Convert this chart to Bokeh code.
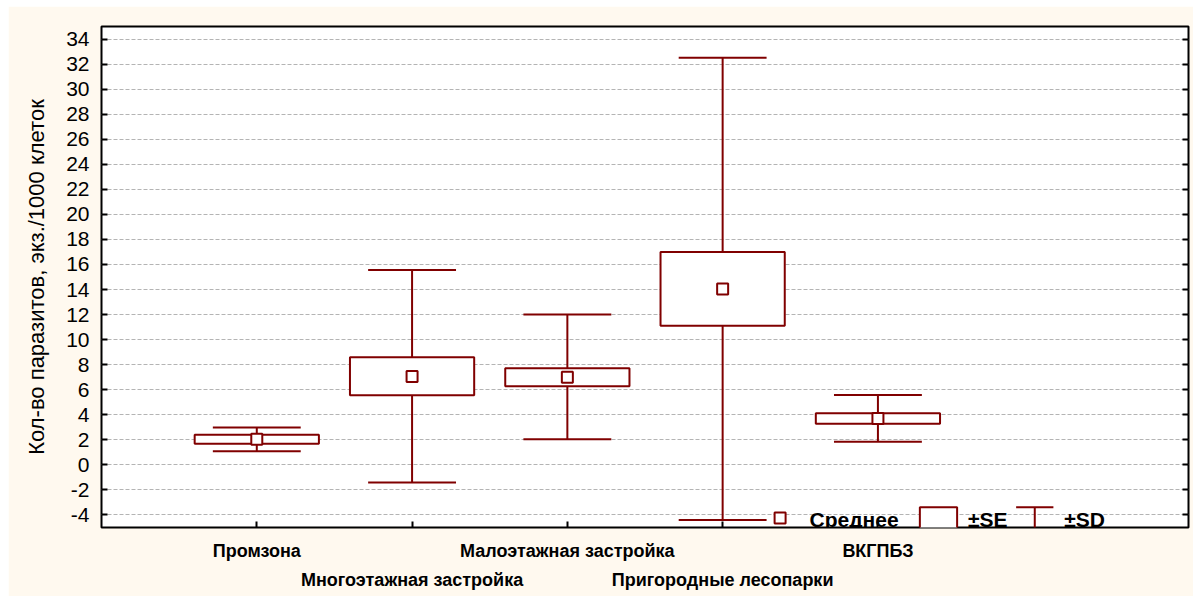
from bokeh.plotting import figure
from bokeh.models import FixedTicker, LinearAxis, Range1d, Label, ColumnDataSource
from bokeh.embed import file_html
from bokeh.resources import INLINE

categories = ["Промзона", "Многоэтажная застройка", "Малоэтажная застройка",
              "Пригородные лесопарки", "ВКГПБЗ"]
means = [2.05, 7.05, 7.0, 14.05, 3.7]
se_low = [1.68, 5.55, 6.28, 11.1, 3.28]
se_high = [2.40, 8.60, 7.72, 17.0, 4.13]
sd_low = [1.08, -1.4, 2.05, -4.4, 1.85]
sd_high = [2.98, 15.55, 12.0, 32.5, 5.57]
y_ticks = list(range(-4, 35, 2))
legend_labels = ["Среднее", "±SE", "±SD"]

RED = "#800000"
CREAM = "#FFF9EF"
FONT = "Liberation Sans"

xs = list(range(1, len(categories) + 1))
box_half = 0.4
cap_half = 0.283

src = ColumnDataSource(dict(
    x=xs, mean=means, se_lo=se_low, se_hi=se_high, sd_lo=sd_low, sd_hi=sd_high,
    bl=[x - box_half for x in xs], br=[x + box_half for x in xs],
    cl=[x - cap_half for x in xs], cr=[x + cap_half for x in xs],
))

p = figure(width=1185, height=590, x_range=Range1d(0, 7), y_range=Range1d(-5, 35),
           output_backend="svg", toolbar_location=None,
           background_fill_color="white", border_fill_color=CREAM,
           min_border_left=93, min_border_right=5, min_border_top=20, min_border_bottom=69)
p.margin = (6, 0, 0, 8)
p.outline_line_color = "black"
p.outline_line_width = 2

# grid
p.xgrid.grid_line_color = None
p.ygrid.ticker = FixedTicker(ticks=y_ticks)
p.ygrid.grid_line_color = "#b4b4b4"
p.ygrid.grid_line_dash = "4 2"
p.ygrid.grid_line_width = 1

# y axis
ya = p.yaxis[0]
ya.ticker = FixedTicker(ticks=y_ticks)
ya.major_label_overrides = {t: str(t) for t in y_ticks}
ya.axis_line_color = None
ya.major_tick_in = 6
ya.major_tick_out = 0
ya.major_tick_line_color = "black"
ya.major_tick_line_width = 2
ya.minor_tick_line_color = None
ya.major_label_standoff = 12
ya.major_label_text_font = FONT
ya.major_label_text_font_size = "21px"
ya.major_label_text_color = "black"
ya.axis_label = "Кол-во паразитов, экз./1000 клеток"
ya.axis_label_text_font = FONT
ya.axis_label_text_font_size = "22px"
ya.axis_label_text_font_style = "normal"
ya.axis_label_text_color = "black"
ya.axis_label_standoff = 14

# right axis (ticks only)
ra = LinearAxis(ticker=FixedTicker(ticks=y_ticks),
                major_label_overrides={t: "" for t in y_ticks})
ra.axis_line_color = None
ra.major_tick_in = 6
ra.major_tick_out = 0
ra.major_tick_line_width = 2
ra.minor_tick_line_color = None
ra.major_label_standoff = 0
p.add_layout(ra, "right")

# x axis row 1
xa = p.xaxis[0]
xa.ticker = FixedTicker(ticks=xs)
xa.major_label_overrides = {x: (c if i % 2 == 0 else "") for i, (x, c) in enumerate(zip(xs, categories))}
xa.axis_line_color = None
xa.major_tick_in = 6
xa.major_tick_out = 0
xa.major_tick_line_width = 2
xa.minor_tick_line_color = None
xa.major_label_standoff = 13
xa.major_label_text_font = FONT
xa.major_label_text_font_style = "bold"
xa.major_label_text_font_size = "18px"
xa.major_label_text_color = "black"

# x axis row 2
xb = LinearAxis(ticker=FixedTicker(ticks=xs[1::2]),
                major_label_overrides={x: c for x, c in zip(xs[1::2], categories[1::2])})
xb.axis_line_color = None
xb.major_tick_line_color = None
xb.minor_tick_line_color = None
xb.major_label_standoff = 0
xb.major_label_text_font = FONT
xb.major_label_text_font_style = "bold"
xb.major_label_text_font_size = "18px"
xb.major_label_text_color = "black"
p.add_layout(xb, "below")

# whiskers
p.segment(x0="x", y0="sd_lo", x1="x", y1="sd_hi", source=src, line_color=RED, line_width=2)
p.segment(x0="cl", y0="sd_hi", x1="cr", y1="sd_hi", source=src, line_color=RED, line_width=2)
p.segment(x0="cl", y0="sd_lo", x1="cr", y1="sd_lo", source=src, line_color=RED, line_width=2)
# SE boxes
p.quad(left="bl", right="br", bottom="se_lo", top="se_hi", source=src,
       fill_color="white", line_color=RED, line_width=2)
# means
p.scatter(x="x", y="mean", source=src, marker="square", size=11,
          fill_color="white", line_color=RED, line_width=2)

# legend (drawn manually in data units)
p.scatter(x=[4.37], y=[-4.25], marker="square", size=11, fill_color="white",
          line_color=RED, line_width=2)
p.quad(left=[5.27], right=[5.51], bottom=[-5.2], top=[-3.38],
       fill_color="white", line_color=RED, line_width=2)
p.segment(x0=[6.01], y0=[-3.38], x1=[6.01], y1=[-5.2], line_color=RED, line_width=2)
p.segment(x0=[5.89, 5.89], y0=[-3.38, -5.2], x1=[6.13, 6.13], y1=[-3.38, -5.2],
          line_color=RED, line_width=2)
for lx, txt in zip([4.56, 5.58, 6.2], legend_labels):
    p.add_layout(Label(x=lx, y=-4.4, text=txt, text_font=FONT, text_font_style="bold",
                       text_font_size="21px", text_baseline="middle", text_color="black"))

open("out.html", "w").write(file_html(p, INLINE))
